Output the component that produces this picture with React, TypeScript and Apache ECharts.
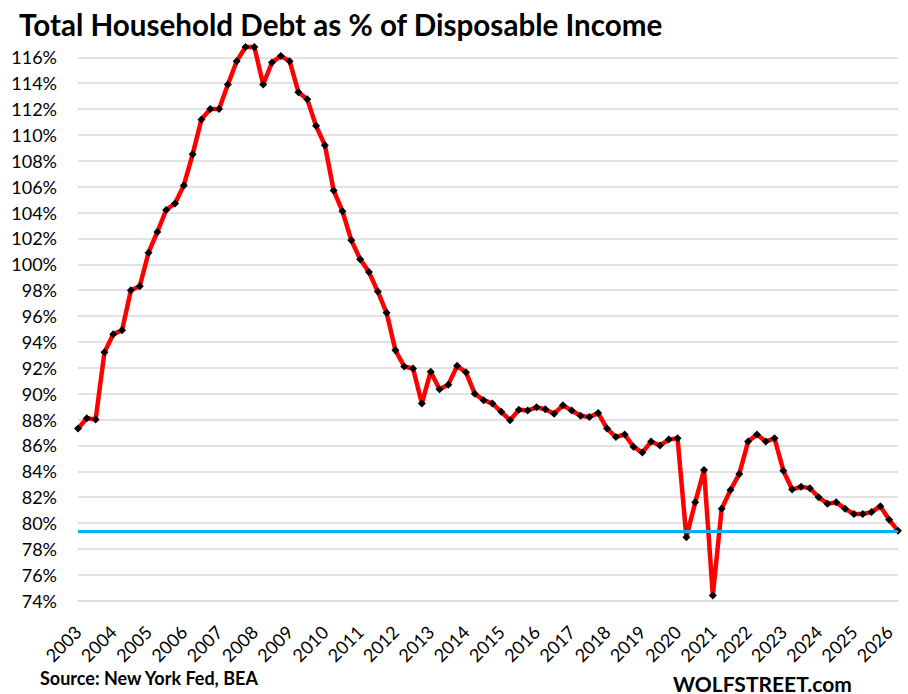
import React, { useEffect, useRef } from "react";
import * as echarts from "echarts";

const TITLE = "Total Household Debt as % of Disposable Income";
const SOURCE = "Source: New York Fed, BEA";
const BRAND = "WOLFSTREET.com";

const YEARS = [
  "2003", "2004", "2005", "2006", "2007", "2008", "2009", "2010",
  "2011", "2012", "2013", "2014", "2015", "2016", "2017", "2018",
  "2019", "2020", "2021", "2022", "2023", "2024", "2025", "2026",
];
const QUARTERS = ["Q1", "Q2", "Q3", "Q4"];

// Household debt as % of disposable income, quarterly
const DEBT_RATIO = [
  87.3, 88.1, 88.0, 93.2, 94.6, 94.9, 98.0, 98.3,
  100.9, 102.5, 104.2, 104.7, 106.1, 108.5, 111.2, 112.0,
  112.0, 113.9, 115.7, 116.8, 116.8, 113.9, 115.6, 116.1,
  115.7, 113.3, 112.75, 110.7, 109.2, 105.7, 104.1, 101.85,
  100.4, 99.4, 97.9, 96.25, 93.35, 92.1, 91.95, 89.25,
  91.7, 90.35, 90.7, 92.15, 91.65, 90.0, 89.5, 89.25,
  88.6, 87.95, 88.75, 88.7, 88.95, 88.8, 88.45, 89.1,
  88.7, 88.3, 88.2, 88.5, 87.3, 86.65, 86.85, 85.9,
  85.45, 86.3, 86.0, 86.45, 86.55, 78.9, 81.6, 84.1,
  74.4, 81.1, 82.55, 83.8, 86.3, 86.85, 86.3, 86.55,
  84.05, 82.6, 82.8, 82.7, 82.0, 81.5, 81.6, 81.1,
  80.7, 80.7, 80.85, 81.3, 80.25, 79.4,
];

const CURRENT_LEVEL = 79.4;
const Y_MIN = 74;
const Y_MAX = 116;
const Y_STEP = 2;

const CATEGORIES = YEARS.flatMap((y) => QUARTERS.map((q) => `${y} ${q}`)).slice(
  0,
  DEBT_RATIO.length
);

const FONT = "Lato, 'Noto Sans', sans-serif";

export default function App() {
  const ref = useRef<HTMLDivElement>(null);

  useEffect(() => {
    document.body.style.margin = "0";
    if (!ref.current) return;
    const chart = echarts.init(ref.current, undefined, { renderer: "svg" });
    chart.setOption({
      animation: false,
      backgroundColor: "#ffffff",
      title: {
        text: TITLE,
        left: 14,
        top: 4,
        textStyle: {
          fontFamily: FONT,
          fontWeight: "bold",
          fontSize: 29.6,
          color: "#000000",
        },
      },
      grid: { left: 78, right: 10, top: 57.3, bottom: 93.3, containLabel: false },
      xAxis: {
        type: "category",
        data: CATEGORIES,
        boundaryGap: false,
        axisLine: { show: true, lineStyle: { color: "#D9D9D9", width: 1.5 } },
        axisTick: { show: false },
        splitLine: { show: false },
        axisLabel: {
          interval: 3,
          rotate: 45,
          margin: 28,
          hideOverlap: false,
          formatter: (v: string) => v.slice(0, 4),
          fontFamily: FONT,
          fontSize: 18,
          color: "#000000",
        },
      },
      yAxis: {
        type: "value",
        min: Y_MIN,
        max: Y_MAX,
        interval: Y_STEP,
        axisLine: { show: false },
        axisTick: { show: false },
        splitLine: { lineStyle: { color: "#D9D9D9", width: 1.5 } },
        axisLabel: {
          formatter: "{value}%",
          margin: 21,
          fontFamily: FONT,
          fontSize: 18,
          color: "#000000",
        },
      },
      series: [
        {
          type: "line",
          data: DEBT_RATIO,
          clip: false,
          showAllSymbol: true,
          symbol: "diamond",
          symbolSize: 8,
          itemStyle: { color: "#000000" },
          lineStyle: { color: "#FF0000", width: 4.5 },
          z: 3,
          markLine: {
            silent: true,
            symbol: ["none", "none"],
            label: { show: false },
            lineStyle: { color: "#00B0F0", width: 3, type: "solid" },
            data: [{ yAxis: CURRENT_LEVEL }],
          },
        },
      ],
      graphic: [
        {
          type: "text",
          x: 40,
          y: 678,
          style: {
            text: SOURCE,
            fontFamily: FONT,
            fontWeight: "bold",
            fontSize: 18,
            fill: "#000000",
            verticalAlign: "middle",
          },
        },
        {
          type: "text",
          x: 673,
          y: 683,
          style: {
            text: BRAND,
            fontFamily: FONT,
            fontWeight: "bold",
            fontSize: 21,
            fill: "#000000",
            verticalAlign: "middle",
          },
        },
      ],
    });
    return () => chart.dispose();
  }, []);

  return <div ref={ref} style={{ width: 908, height: 694 }} />;
}
